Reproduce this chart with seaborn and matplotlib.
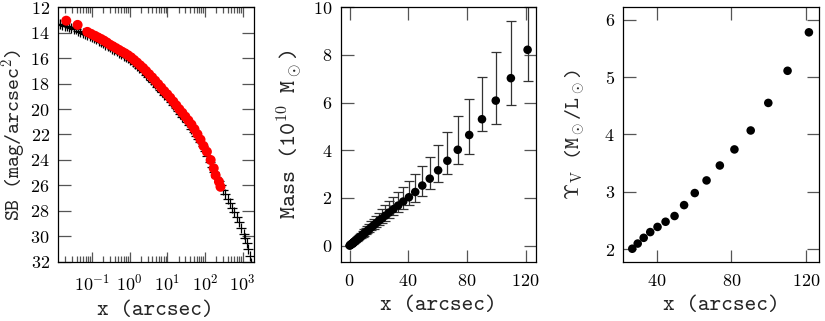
import matplotlib

matplotlib.use("Agg")
import matplotlib.pyplot as plt
from matplotlib.ticker import LogLocator, MultipleLocator, NullFormatter
import seaborn as sns

# --- left panel: surface-brightness profile -------------------------------
# black "+" profile (radius in arcsec, SB in mag/arcsec^2)
sb_model_x = [
    0.0126, 0.0145, 0.0166, 0.0191, 0.0219, 0.0251, 0.0288, 0.0331, 0.0380, 0.0437,
    0.0501, 0.0575, 0.0661, 0.0759, 0.0871, 0.100, 0.115, 0.132, 0.151, 0.174,
    0.200, 0.229, 0.263, 0.302, 0.347, 0.398, 0.457, 0.525, 0.603, 0.692,
    0.794, 0.912, 1.05, 1.20, 1.38, 1.58, 1.82, 2.09, 2.40, 2.75,
    3.16, 3.63, 4.17, 4.79, 5.50, 6.31, 7.24, 8.32, 9.55, 11.0,
    12.6, 14.5, 16.6, 19.1, 21.9, 25.1, 28.8, 33.1, 38.0, 43.7,
    50.1, 57.5, 66.1, 75.9, 87.1, 100, 115, 132, 151, 174,
    200, 229, 263, 302, 347, 398, 457, 525, 603, 692,
    794, 912, 1047, 1148, 1259, 1380, 1514, 1660,
]
sb_model = [
    13.30, 13.35, 13.40, 13.45, 13.51, 13.57, 13.63, 13.69, 13.76, 13.84,
    13.92, 14.00, 14.08, 14.16, 14.24, 14.33, 14.43, 14.53, 14.63, 14.74,
    14.85, 14.96, 15.07, 15.17, 15.27, 15.38, 15.48, 15.58, 15.70, 15.81,
    15.92, 16.03, 16.15, 16.29, 16.44, 16.59, 16.75, 16.93, 17.11, 17.30,
    17.50, 17.69, 17.88, 18.07, 18.27, 18.47, 18.67, 18.87, 19.05, 19.25,
    19.47, 19.69, 19.91, 20.13, 20.36, 20.59, 20.81, 21.03, 21.27, 21.53,
    21.80, 22.08, 22.36, 22.58, 22.90, 23.30, 23.72, 24.12, 24.52, 24.92,
    25.30, 25.65, 26.00, 26.35, 26.70, 27.05, 27.40, 27.75, 28.10, 28.50,
    28.90, 29.35, 29.80, 30.10, 30.50, 31.00, 31.50, 32.10,
]

# red observed points
sb_obs_x = [
    0.021, 0.042, 0.076, 0.095, 0.120, 0.145, 0.174, 0.209, 0.251, 0.302,
    0.363, 0.437, 0.525, 0.631, 0.759, 0.912, 1.10, 1.32, 1.58, 1.91,
    2.29, 2.75, 3.31, 3.98, 4.79, 5.75, 6.92, 8.32, 10.0, 12.0,
    14.5, 17.4, 20.9, 25.1, 30.2, 36.3, 43.7, 52.5, 63.1, 75.9,
    91.2, 112, 141, 170, 191, 234, 257,
]
sb_obs = [
    13.07, 13.40, 13.95, 14.10, 14.25, 14.38, 14.50, 14.63, 14.78, 14.95,
    15.08, 15.22, 15.36, 15.50, 15.63, 15.78, 15.95, 16.15, 16.35, 16.57,
    16.78, 17.02, 17.27, 17.52, 17.78, 18.05, 18.32, 18.60, 18.85, 19.12,
    19.42, 19.72, 20.02, 20.30, 20.60, 20.90, 21.22, 21.58, 21.98, 22.40,
    22.90, 23.35, 24.00, 24.65, 25.20, 25.70, 26.10,
]

# --- middle panel: enclosed mass ------------------------------------------
mass_x = [
    0.1, 0.4, 0.7, 1.0, 1.3, 1.6, 1.8, 2.0, 2.2, 2.4,
    2.7, 3.0, 3.3, 3.6, 4.0, 4.4, 4.9, 5.4, 6.0, 6.7,
    7.4, 8.1, 9.0, 9.9, 11.0, 12.1, 13.4, 14.8, 16.4, 18.1,
    20.0, 22.1, 24.4, 27.0, 29.9, 33.1, 36.6, 40.5, 44.8, 49.6,
    54.7, 60.4, 66.7, 73.8, 81.6, 90.3, 99.7, 110.0, 121.4,
]
mass = [
    0.005, 0.02, 0.035, 0.05, 0.065, 0.08, 0.09, 0.10, 0.11, 0.12,
    0.135, 0.15, 0.165, 0.18, 0.20, 0.22, 0.25, 0.27, 0.30, 0.34,
    0.37, 0.41, 0.46, 0.51, 0.56, 0.62, 0.69, 0.77, 0.85, 0.94,
    1.04, 1.14, 1.26, 1.39, 1.53, 1.68, 1.85, 2.03, 2.25, 2.52,
    2.81, 3.16, 3.56, 4.02, 4.64, 5.30, 6.08, 7.02, 8.21,
]
mass_err_hi = [
    0.0, 0.01, 0.01, 0.02, 0.02, 0.03, 0.03, 0.03, 0.04, 0.04,
    0.04, 0.05, 0.05, 0.06, 0.07, 0.07, 0.08, 0.09, 0.10, 0.12,
    0.13, 0.14, 0.16, 0.17, 0.19, 0.21, 0.23, 0.26, 0.29, 0.32,
    0.35, 0.39, 0.43, 0.47, 0.51, 0.56, 0.62, 0.68, 0.77, 0.83,
    0.92, 1.06, 1.19, 1.40, 1.51, 1.76, 2.05, 2.40, 2.80,
]
mass_err_lo = [
    0.0, 0.0, 0.01, 0.01, 0.01, 0.01, 0.02, 0.02, 0.02, 0.02,
    0.02, 0.03, 0.03, 0.03, 0.03, 0.04, 0.04, 0.05, 0.05, 0.06,
    0.06, 0.07, 0.08, 0.085, 0.09, 0.10, 0.12, 0.13, 0.14, 0.16,
    0.17, 0.19, 0.21, 0.23, 0.26, 0.28, 0.31, 0.34, 0.41, 0.44,
    0.45, 0.50, 0.55, 0.61, 0.78, 0.48, 0.99, 1.13, 1.30,
]

# --- right panel: V-band mass-to-light ratio ------------------------------
ml_x = [27.0, 29.9, 33.1, 36.6, 40.5, 44.8, 49.6, 54.7,
        60.4, 66.7, 73.8, 81.6, 90.3, 99.7, 110.0, 121.4]
ml_v = [2.01, 2.10, 2.20, 2.30, 2.39, 2.48, 2.58, 2.77,
        2.98, 3.20, 3.46, 3.74, 4.07, 4.55, 5.11, 5.78]

LABEL_FONT = "cmtt10"
TICK_GREY = "#555555"


def style_axis(ax, xlen=9, ylen=9):
    ax.tick_params(axis="both", which="both", direction="in", top=True, right=True,
                   color=TICK_GREY, width=0.9, labelsize=13, labelcolor="black")
    ax.tick_params(axis="x", which="major", length=xlen, pad=8)
    ax.tick_params(axis="y", which="major", length=ylen, pad=6)
    for spine in ax.spines.values():
        spine.set_linewidth(0.9)
        spine.set_color("black")


def label_axes(ax, ylabel, ysize, ylabel_x):
    ax.set_xlabel("x (arcsec)", fontfamily=LABEL_FONT, fontsize=16, labelpad=5)
    ax.set_ylabel(ylabel, fontfamily=LABEL_FONT, fontsize=ysize, va="center")
    ax.yaxis.set_label_coords(ylabel_x, 0.5)


def main() -> None:
    sns.set_theme(style="ticks")
    plt.rcParams["font.family"] = ["cmr10", "DejaVu Serif"]
    plt.rcParams["mathtext.fontset"] = "cm"
    plt.rcParams["axes.formatter.use_mathtext"] = True
    plt.rcParams["axes.unicode_minus"] = False

    fig = plt.figure(figsize=(8.25, 3.21), dpi=100)
    bottom, height, width = 0.184, 0.794, 0.237
    ax1 = fig.add_axes([0.0703, bottom, width, height])
    ax2 = fig.add_axes([0.413, bottom, width, height])
    ax3 = fig.add_axes([0.7555, bottom, width, height])

    # left panel
    sns.scatterplot(x=sb_model_x, y=sb_model, marker="+", color="black",
                    s=55, linewidth=0.9, ax=ax1, zorder=2)
    sns.scatterplot(x=sb_obs_x, y=sb_obs, color="#ff0000", edgecolor="none",
                    s=52, ax=ax1, zorder=3)
    ax1.set_xscale("log")
    ax1.set_xlim(0.0127, 1930)
    ax1.set_ylim(32, 12)
    ax1.xaxis.set_major_locator(LogLocator(base=10, numticks=12))
    ax1.xaxis.set_minor_locator(LogLocator(base=10, subs=range(2, 10), numticks=12))
    ax1.xaxis.set_minor_formatter(NullFormatter())
    ax1.yaxis.set_major_locator(MultipleLocator(2))
    style_axis(ax1, xlen=7, ylen=9)
    ax1.tick_params(axis="x", which="minor", length=4)
    label_axes(ax1, r"SB (mag/arcsec$^2$)", 15, -0.225)

    # middle panel
    ax2.errorbar(mass_x, mass, yerr=[mass_err_lo, mass_err_hi], fmt="none",
                 ecolor="#333333", elinewidth=0.9, capsize=3.5, capthick=0.9,
                 zorder=2)
    sns.scatterplot(x=mass_x, y=mass, color="black", edgecolor="none", s=38,
                    ax=ax2, zorder=3)
    ax2.set_xlim(-6, 127.3)
    ax2.set_ylim(-0.68, 10)
    ax2.xaxis.set_major_locator(MultipleLocator(40))
    ax2.yaxis.set_major_locator(MultipleLocator(2))
    style_axis(ax2)
    label_axes(ax2, r"Mass (10$^{10}$ M$_\odot$)", 16.5, -0.26)

    # right panel
    sns.scatterplot(x=ml_x, y=ml_v, color="black", edgecolor="none", s=38,
                    ax=ax3, zorder=3)
    ax3.set_xlim(22.2, 126.7)
    ax3.set_ylim(1.78, 6.22)
    ax3.xaxis.set_major_locator(MultipleLocator(40))
    ax3.yaxis.set_major_locator(MultipleLocator(1))
    style_axis(ax3)
    label_axes(ax3, r"$\Upsilon_{\rm V}$ (M$_\odot$/L$_\odot$)", 15, -0.246)

    fig.savefig("out.png", dpi=100)
    plt.close(fig)


if __name__ == "__main__":
    main()
